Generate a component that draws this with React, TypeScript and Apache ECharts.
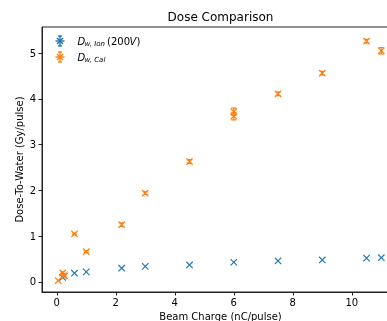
import React, { useEffect, useRef } from "react";
import * as echarts from "echarts";

const ionCharge = [0.2, 0.25, 0.6, 1.0, 2.2, 3.0, 4.5, 6.0, 7.5, 9.0, 10.5, 11.0];
const ionDose = [0.10, 0.13, 0.19, 0.22, 0.30, 0.34, 0.37, 0.43, 0.46, 0.48, 0.52, 0.53];
const ionErr = [0.005, 0.005, 0.005, 0.005, 0.005, 0.005, 0.005, 0.005, 0.005, 0.005, 0.005, 0.005];

const calCharge = [0.05, 0.2, 0.25, 0.6, 1.0, 2.2, 3.0, 4.5, 6.0, 6.0, 7.5, 9.0, 10.5, 11.0];
const calDose = [0.03, 0.20, 0.13, 1.05, 0.66, 1.25, 1.94, 2.63, 3.62, 3.72, 4.11, 4.56, 5.26, 5.05];
const calErr = [0.01, 0.02, 0.02, 0.02, 0.02, 0.04, 0.03, 0.04, 0.08, 0.08, 0.04, 0.04, 0.04, 0.07];

const xTicks = [0, 2, 4, 6, 8, 10];
const yTicks = [0, 1, 2, 3, 4, 5];

const BLUE = "#1f77b4";
const ORANGE = "#ff7f0e";
const FONT = "DejaVu Sans";

function makeRender(color: string) {
  return (params: any, api: any) => {
    const x = api.value(0);
    const y = api.value(1);
    const e = api.value(2);
    const p = api.coord([x, y]);
    const t = api.coord([x, y + e]);
    const b = api.coord([x, y - e]);
    const h = 3.2;
    const cap = 2.5;
    const style = { stroke: color, lineWidth: 1.2, fill: "none" };
    const children: any[] = [
      { type: "line", shape: { x1: p[0] - h, y1: p[1] - h, x2: p[0] + h, y2: p[1] + h }, style },
      { type: "line", shape: { x1: p[0] - h, y1: p[1] + h, x2: p[0] + h, y2: p[1] - h }, style },
    ];
    if (Math.abs(b[1] - t[1]) > 1.5) {
      children.push(
        { type: "line", shape: { x1: p[0], y1: t[1], x2: p[0], y2: b[1] }, style },
        { type: "line", shape: { x1: p[0] - cap, y1: t[1], x2: p[0] + cap, y2: t[1] }, style },
        { type: "line", shape: { x1: p[0] - cap, y1: b[1], x2: p[0] + cap, y2: b[1] }, style }
      );
    }
    return { type: "group", children };
  };
}

function legendIcon(cx: number, cy: number, color: string) {
  const style = { stroke: color, lineWidth: 1.4, fill: "none" };
  const h = 3;
  return [
    { type: "line", shape: { x1: cx, y1: cy - 5, x2: cx, y2: cy + 5 }, style },
    { type: "line", shape: { x1: cx - 4.5, y1: cy, x2: cx + 4.5, y2: cy }, style },
    { type: "line", shape: { x1: cx - 2, y1: cy - 5, x2: cx + 2, y2: cy - 5 }, style },
    { type: "line", shape: { x1: cx - 2, y1: cy + 5, x2: cx + 2, y2: cy + 5 }, style },
    { type: "line", shape: { x1: cx - h, y1: cy - h, x2: cx + h, y2: cy + h }, style },
    { type: "line", shape: { x1: cx - h, y1: cy + h, x2: cx + h, y2: cy - h }, style },
  ];
}

function txt(x: number, y: number, text: string, size: number, italic = false, extra: any = {}) {
  return {
    type: "text",
    x,
    y,
    style: {
      text,
      fontFamily: FONT,
      fontSize: size,
      fontStyle: italic ? "italic" : "normal",
      fill: "#000",
      textVerticalAlign: "middle",
      ...extra,
    },
  };
}

export default function App() {
  const ref = useRef<HTMLDivElement>(null);
  useEffect(() => {
    if (!ref.current) return;
    const chart = echarts.init(ref.current, undefined, { renderer: "svg" });
    const ionData = ionCharge.map((c, i) => [c, ionDose[i], ionErr[i]]);
    const calData = calCharge.map((c, i) => [c, calDose[i], calErr[i]]);
    const axisLabel = { color: "#000", fontFamily: FONT, fontSize: 10 };
    chart.setOption({
      animation: false,
      grid: {
        left: 42,
        top: 27,
        width: 357,
        height: 265,
        outerBoundsMode: "none",
        containLabel: false,
        show: true,
        borderColor: "#222",
        borderWidth: 1,
        backgroundColor: "transparent",
      },
      xAxis: {
        type: "value",
        min: -0.5,
        max: 11.6,
        splitLine: { show: false },
        axisLine: { show: true, onZero: false, lineStyle: { color: "#222", width: 1 } },
        axisTick: { show: true, length: 3.5, customValues: xTicks, lineStyle: { color: "#222" } },
        axisLabel: { ...axisLabel, margin: 5, customValues: xTicks, formatter: (v: number) => String(v) },
      },
      yAxis: {
        type: "value",
        min: -0.22,
        max: 5.57,
        splitLine: { show: false },
        axisLine: { show: true, onZero: false, lineStyle: { color: "#222", width: 1 } },
        axisTick: { show: true, length: 3.5, customValues: yTicks, lineStyle: { color: "#222" } },
        axisLabel: { ...axisLabel, margin: 6, customValues: yTicks, formatter: (v: number) => String(v) },
      },
      series: [
        { type: "custom", name: "ion", data: ionData, renderItem: makeRender(BLUE), clip: false },
        { type: "custom", name: "cal", data: calData, renderItem: makeRender(ORANGE), clip: false },
      ],
      graphic: [
        {
          type: "text",
          x: 220.5,
          y: 17,
          style: {
            text: "Dose Comparison",
            fontFamily: FONT,
            fontSize: 12,
            fill: "#000",
            textAlign: "center",
            textVerticalAlign: "middle",
          },
        },
        {
          type: "text",
          x: 220.5,
          y: 311,
          style: {
            text: "Beam Charge (nC/pulse)",
            fontFamily: FONT,
            fontSize: 10,
            fill: "#000",
            textAlign: "center",
            textVerticalAlign: "top",
          },
        },
        {
          type: "text",
          x: 19,
          y: 159.5,
          rotation: Math.PI / 2,
          style: {
            text: "Dose-To-Water (Gy/pulse)",
            fontFamily: FONT,
            fontSize: 10,
            fill: "#000",
            textAlign: "center",
            textVerticalAlign: "middle",
          },
        },
        ...legendIcon(60, 41, BLUE),
        ...legendIcon(60, 57, ORANGE),
        txt(77.5, 41, "D", 10, true),
        txt(84.5, 44, "w, Ion", 7, true),
        txt(107, 41, "(200", 10, false),
        txt(129.5, 41, "V", 10, true),
        txt(136.5, 41, ")", 10, false),
        txt(77.5, 57, "D", 10, true),
        txt(84.5, 60, "w, Cal", 7, true),
      ],
    });
    return () => chart.dispose();
  }, []);
  return (
    <div
      ref={ref}
      style={{ width: 387, height: 321, position: "fixed", left: 0, top: 0, overflow: "hidden" }}
    />
  );
}
